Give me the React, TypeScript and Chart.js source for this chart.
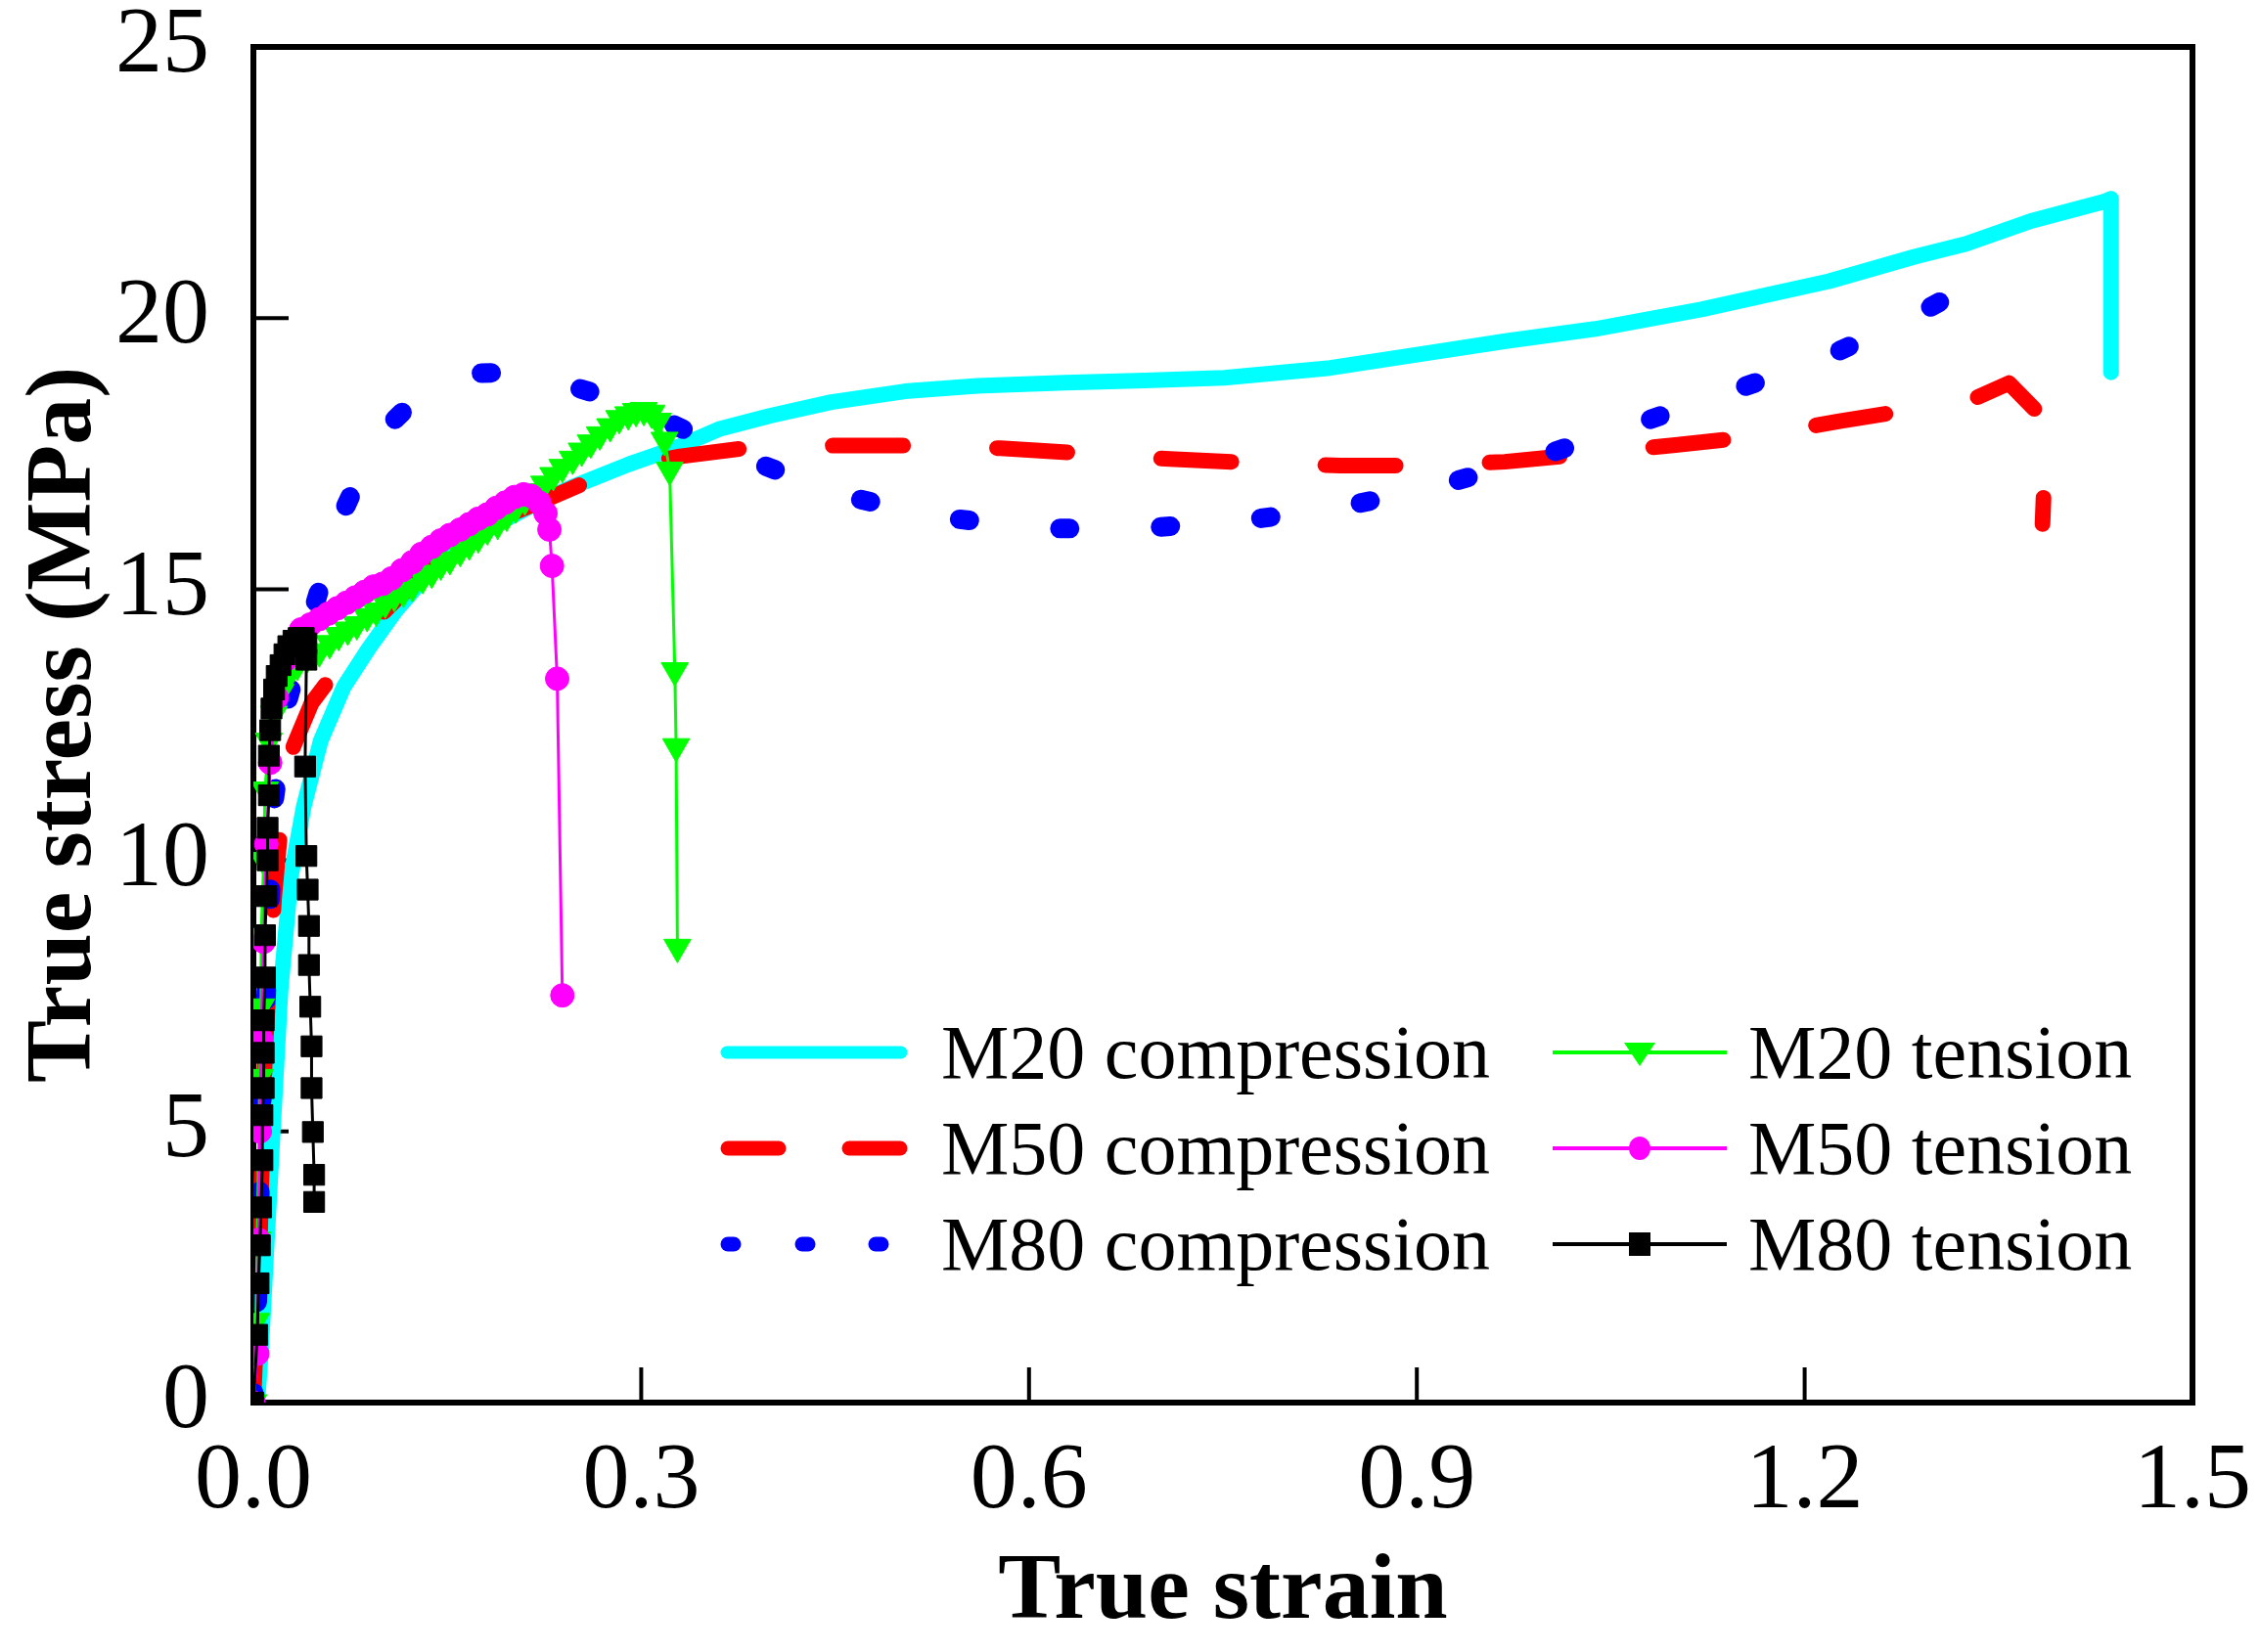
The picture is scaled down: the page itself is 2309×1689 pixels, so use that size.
import React, { useEffect, useRef } from 'react';
import { Chart, registerables } from 'chart.js';

Chart.register(...registerables);

// M20 compression (cyan, solid)
const m20CompStrain = [0.003, 0.006, 0.010, 0.015, 0.021, 0.029, 0.039, 0.052, 0.070, 0.089, 0.110, 0.132, 0.160, 0.196, 0.220, 0.248, 0.290, 0.326, 0.360, 0.400, 0.447, 0.504, 0.560, 0.628, 0.690, 0.751, 0.833, 0.915, 0.970, 1.038, 1.120, 1.219, 1.285, 1.325, 1.375, 1.432, 1.437, 1.437];
const m20CompStress = [0, 1.0, 2.8, 5.0, 7.6, 9.7, 11.0, 12.2, 13.2, 13.9, 14.6, 15.2, 15.8, 16.3, 16.6, 16.9, 17.3, 17.6, 17.95, 18.2, 18.45, 18.65, 18.75, 18.81, 18.85, 18.9, 19.08, 19.38, 19.58, 19.8, 20.16, 20.68, 21.13, 21.37, 21.79, 22.15, 22.2, 19.0];

// M50 compression (red, dashed)
const m50CompStrain = [0, 0.005, 0.009, 0.016, 0.021, 0.031, 0.045, 0.064, 0.085, 0.110, 0.140, 0.170, 0.200, 0.231, 0.260, 0.300, 0.330, 0.380, 0.450, 0.517, 0.578, 0.644, 0.709, 0.775, 0.841, 0.907, 0.968, 1.034, 1.100, 1.160, 1.227, 1.288, 1.330, 1.358, 1.387, 1.384];
const m50CompStress = [0, 3.0, 6.5, 9.3, 10.6, 12.1, 12.9, 13.5, 14.2, 14.8, 15.4, 15.9, 16.4, 16.7, 17.0, 17.3, 17.45, 17.6, 17.65, 17.65, 17.6, 17.5, 17.4, 17.33, 17.28, 17.28, 17.35, 17.5, 17.66, 17.81, 18.1, 18.33, 18.5, 18.8, 18.1, 16.2];

// M80 compression (blue, dotted)
const m80CompStrain = [0, 0.004, 0.006, 0.010, 0.013, 0.016, 0.026, 0.047, 0.068, 0.097, 0.130, 0.168, 0.200, 0.241, 0.280, 0.318, 0.383, 0.455, 0.532, 0.607, 0.685, 0.761, 0.837, 0.913, 0.985, 1.060, 1.133, 1.206, 1.278, 1.336, 1.345];
const m80CompStress = [0, 2.5, 5.3, 7.6, 9.3, 11.1, 12.9, 14.67, 16.35, 17.85, 18.6, 18.98, 19.0, 18.78, 18.5, 18.11, 17.39, 16.73, 16.33, 16.12, 16.12, 16.25, 16.49, 16.88, 17.37, 17.96, 18.57, 19.17, 19.95, 20.71, 20.85];

// M20 tension (green, triangles)
const m20TenStrain = [0, 0.002, 0.003, 0.004, 0.005, 0.006, 0.006, 0.008, 0.009, 0.012, 0.016, 0.021, 0.027, 0.034, 0.042, 0.051, 0.059, 0.066, 0.073, 0.080, 0.088, 0.095, 0.102, 0.109, 0.116, 0.123, 0.131, 0.138, 0.145, 0.152, 0.160, 0.167, 0.174, 0.181, 0.189, 0.196, 0.203, 0.210, 0.218, 0.225, 0.232, 0.239, 0.247, 0.254, 0.261, 0.268, 0.276, 0.283, 0.290, 0.296, 0.302, 0.308, 0.313, 0.318, 0.322, 0.326, 0.327, 0.328];
const m20TenStress = [0, 1.5, 3.0, 4.5, 6.0, 7.3, 8.6, 10.0, 11.3, 12.2, 12.7, 13.1, 13.4, 13.6, 13.75, 13.85, 14.0, 14.15, 14.25, 14.35, 14.5, 14.6, 14.75, 14.87, 14.95, 15.05, 15.2, 15.3, 15.45, 15.55, 15.7, 15.82, 15.95, 16.1, 16.2, 16.35, 16.5, 16.65, 16.8, 16.94, 17.1, 17.25, 17.4, 17.55, 17.7, 17.85, 18.0, 18.15, 18.22, 18.28, 18.3, 18.25, 18.1, 17.75, 17.2, 13.5, 12.1, 8.4];

// M50 tension (magenta, circles)
const m50TenStrain = [0, 0.003, 0.004, 0.005, 0.006, 0.008, 0.010, 0.013, 0.018, 0.025, 0.031, 0.037, 0.044, 0.051, 0.058, 0.065, 0.072, 0.079, 0.086, 0.093, 0.100, 0.107, 0.115, 0.123, 0.130, 0.138, 0.145, 0.152, 0.160, 0.167, 0.174, 0.181, 0.188, 0.195, 0.202, 0.209, 0.215, 0.221, 0.226, 0.229, 0.231, 0.235, 0.239];
const m50TenStress = [0, 0.9, 3.0, 5.0, 6.7, 8.5, 10.3, 11.8, 13.0, 13.7, 14.0, 14.26, 14.35, 14.45, 14.55, 14.65, 14.75, 14.85, 14.95, 15.05, 15.1, 15.2, 15.35, 15.5, 15.65, 15.78, 15.9, 16.0, 16.1, 16.2, 16.3, 16.38, 16.5, 16.6, 16.7, 16.75, 16.72, 16.6, 16.4, 16.1, 15.43, 13.35, 7.51];

// M80 tension (black, squares)
const m80TenStrain = [0, 0.003, 0.004, 0.005, 0.006, 0.007, 0.007, 0.008, 0.008, 0.008, 0.009, 0.009, 0.010, 0.011, 0.011, 0.012, 0.012, 0.013, 0.014, 0.016, 0.018, 0.021, 0.024, 0.027, 0.031, 0.035, 0.039, 0.041, 0.041, 0.040, 0.041, 0.042, 0.043, 0.043, 0.044, 0.045, 0.045, 0.046, 0.047, 0.047];
const m80TenStress = [0, 1.25, 2.2, 2.9, 3.6, 4.47, 5.3, 5.8, 6.45, 7.05, 7.84, 8.62, 9.34, 10.0, 10.6, 11.2, 11.93, 12.4, 12.8, 13.15, 13.4, 13.6, 13.8, 13.95, 14.05, 14.1, 14.1, 14.0, 13.7, 11.73, 10.08, 9.46, 8.79, 8.07, 7.3, 6.57, 5.8, 4.99, 4.2, 3.7];

const seriesNames = ['M20 compression', 'M50 compression', 'M80 compression', 'M20 tension', 'M50 tension', 'M80 tension'];

const xTitle = 'True strain';
const yTitle = 'True stress (MPa)';

const SERIF = "'Times New Roman', 'Liberation Serif', serif";

const toPoints = (xs: number[], ys: number[]) => xs.map((x, i) => ({ x, y: ys[i] }));

// box with inward ticks on the bottom and left axes
const framePlugin = {
    id: 'frame',
    beforeDatasetsDraw(chart: any) {
        const { ctx, chartArea: a, scales } = chart;
        const xs = scales.x;
        const ys = scales.y;
        ctx.save();
        ctx.strokeStyle = '#000';
        ctx.lineWidth = 4;
        xs.ticks.forEach((t: any) => {
            if (t.value <= xs.min || t.value >= xs.max) return;
            const px = xs.getPixelForValue(t.value);
            ctx.beginPath();
            ctx.moveTo(px, a.bottom);
            ctx.lineTo(px, a.bottom - 36);
            ctx.stroke();
        });
        ys.ticks.forEach((t: any) => {
            if (t.value <= ys.min || t.value >= ys.max) return;
            const py = ys.getPixelForValue(t.value);
            ctx.beginPath();
            ctx.moveTo(a.left, py);
            ctx.lineTo(a.left + 36, py);
            ctx.stroke();
        });
        ctx.lineWidth = 6;
        ctx.strokeRect(a.left, a.top, a.right - a.left, a.bottom - a.top);
        ctx.restore();
    },
};

// two-column legend inside the plot
const legendPlugin = {
    id: 'twoColLegend',
    afterDraw(chart: any) {
        const { ctx } = chart;
        const rowY = [1076, 1174, 1272];
        const cols = [
            { x0: 737, x1: 927, tx: 962 },
            { x0: 1587, x1: 1765, tx: 1787 },
        ];
        ctx.save();
        chart.data.datasets.forEach((ds: any, i: number) => {
            const c = cols[Math.floor(i / 3)];
            const y = rowY[i % 3];
            ctx.strokeStyle = ds.borderColor;
            ctx.fillStyle = ds.borderColor;
            if (i === 0) {
                ctx.lineWidth = 13;
                ctx.lineCap = 'round';
                ctx.beginPath();
                ctx.moveTo(c.x0 + 6, y);
                ctx.lineTo(c.x1 - 6, y);
                ctx.stroke();
            } else if (i === 1) {
                ctx.lineWidth = 15;
                ctx.lineCap = 'round';
                [[c.x0 + 7, c.x0 + 59], [c.x1 - 59, c.x1 - 7]].forEach(([a, b]) => {
                    ctx.beginPath();
                    ctx.moveTo(a, y);
                    ctx.lineTo(b, y);
                    ctx.stroke();
                });
            } else if (i === 2) {
                ctx.lineWidth = 15;
                ctx.lineCap = 'round';
                [c.x0 + 10, c.x0 + 86, c.x0 + 161].forEach((px) => {
                    ctx.beginPath();
                    ctx.moveTo(px - 3, y);
                    ctx.lineTo(px + 3, y);
                    ctx.stroke();
                });
            } else {
                const mx = (c.x0 + c.x1) / 2;
                ctx.lineWidth = 4;
                ctx.lineCap = 'butt';
                ctx.beginPath();
                ctx.moveTo(c.x0, y);
                ctx.lineTo(c.x1, y);
                ctx.stroke();
                ctx.beginPath();
                if (ds.pointStyle === 'triangle') {
                    ctx.moveTo(mx - 16, y - 10);
                    ctx.lineTo(mx + 16, y - 10);
                    ctx.lineTo(mx, y + 14);
                    ctx.closePath();
                } else if (ds.pointStyle === 'circle') {
                    ctx.ellipse(mx, y, 11, 12, 0, 0, Math.PI * 2);
                } else {
                    ctx.rect(mx - 11, y - 12, 22, 24);
                }
                ctx.fill();
            }
            ctx.fillStyle = '#000';
            ctx.font = `78px ${SERIF}`;
            ctx.textBaseline = 'alphabetic';
            ctx.textAlign = 'left';
            ctx.fillText(seriesNames[i], c.tx, y + 26);
        });
        ctx.restore();
    },
};

const App: React.FC = () => {
    const canvasRef = useRef<HTMLCanvasElement | null>(null);
    const chartRef = useRef<Chart | null>(null);

    useEffect(() => {
        if (!canvasRef.current) return;

        const lineBase = { pointRadius: 0, pointHoverRadius: 0, fill: false, tension: 0 };
        const markerBase = { borderWidth: 3, fill: false, tension: 0, pointBorderWidth: 1, pointHoverRadius: 0 };

        chartRef.current = new Chart(canvasRef.current, {
            type: 'line',
            data: {
                datasets: [
                    {
                        ...lineBase,
                        label: seriesNames[0],
                        data: toPoints(m20CompStrain, m20CompStress),
                        borderColor: '#00ffff',
                        borderWidth: 16,
                        borderCapStyle: 'round',
                        borderJoinStyle: 'round',
                        order: 6,
                    },
                    {
                        ...lineBase,
                        label: seriesNames[1],
                        data: toPoints(m50CompStrain, m50CompStress),
                        borderColor: '#ff0000',
                        borderWidth: 16,
                        borderDash: [72, 96],
                        borderCapStyle: 'round',
                        borderJoinStyle: 'round',
                        order: 5,
                    },
                    {
                        ...lineBase,
                        label: seriesNames[2],
                        data: toPoints(m80CompStrain, m80CompStress),
                        borderColor: '#0000ff',
                        borderWidth: 20,
                        borderDash: [10, 93],
                        borderCapStyle: 'round',
                        borderJoinStyle: 'round',
                        order: 4,
                    },
                    {
                        ...markerBase,
                        label: seriesNames[3],
                        data: toPoints(m20TenStrain, m20TenStress),
                        borderColor: '#00ff00',
                        pointStyle: 'triangle',
                        rotation: 180,
                        pointRadius: 16,
                        pointBackgroundColor: '#00ff00',
                        pointBorderColor: '#00ff00',
                        order: 3,
                    },
                    {
                        ...markerBase,
                        label: seriesNames[4],
                        data: toPoints(m50TenStrain, m50TenStress),
                        borderColor: '#ff00ff',
                        pointStyle: 'circle',
                        pointRadius: 12,
                        pointBackgroundColor: '#ff00ff',
                        pointBorderColor: '#ff00ff',
                        order: 2,
                    },
                    {
                        ...markerBase,
                        label: seriesNames[5],
                        data: toPoints(m80TenStrain, m80TenStress),
                        borderColor: '#000000',
                        pointStyle: 'rect',
                        pointRadius: 15,
                        pointBackgroundColor: '#000000',
                        pointBorderColor: '#000000',
                        order: 1,
                    },
                ],
            },
            options: {
                animation: false,
                responsive: true,
                maintainAspectRatio: false,
                events: [],
                layout: { padding: { left: 0, right: 68, top: 48, bottom: 0 } },
                plugins: {
                    legend: { display: false },
                    tooltip: { enabled: false },
                },
                scales: {
                    x: {
                        type: 'linear',
                        min: 0,
                        max: 1.5,
                        // tick marks are drawn by the frame plugin; tickLength only spaces the labels
                        grid: { display: false, drawTicks: true, tickLength: 24 },
                        border: { display: false },
                        ticks: {
                            stepSize: 0.3,
                            padding: 0,
                            color: '#000',
                            maxRotation: 0,
                            autoSkip: false,
                            font: { family: SERIF, size: 96 },
                            callback: (v: any) => Number(v).toFixed(1),
                        },
                        title: {
                            display: true,
                            text: xTitle,
                            color: '#000',
                            font: { family: SERIF, size: 96, weight: 'bold' },
                            padding: { top: 0, bottom: 2 },
                        },
                        afterFit: (s: any) => {
                            s.height = 255;
                        },
                    },
                    y: {
                        type: 'linear',
                        min: 0,
                        max: 25,
                        grid: { display: false, drawTicks: true, tickLength: 45 },
                        border: { display: false },
                        ticks: {
                            stepSize: 5,
                            padding: 0,
                            color: '#000',
                            font: { family: SERIF, size: 96, lineHeight: 0.9 },
                        },
                        title: {
                            display: true,
                            text: yTitle,
                            color: '#000',
                            font: { family: SERIF, size: 96, weight: 'bold' },
                            padding: { top: 10, bottom: 0 },
                        },
                        afterFit: (s: any) => {
                            s.width = 259;
                        },
                    },
                },
            } as any,
            plugins: [framePlugin, legendPlugin],
        });

        return () => {
            if (chartRef.current) {
                chartRef.current.destroy();
                chartRef.current = null;
            }
        };
    }, []);

    return (
        <div style={{ position: 'absolute', left: 0, top: 0, width: 2309, height: 1689, background: '#fff' }}>
            <canvas ref={canvasRef} />
        </div>
    );
};

export default App;
